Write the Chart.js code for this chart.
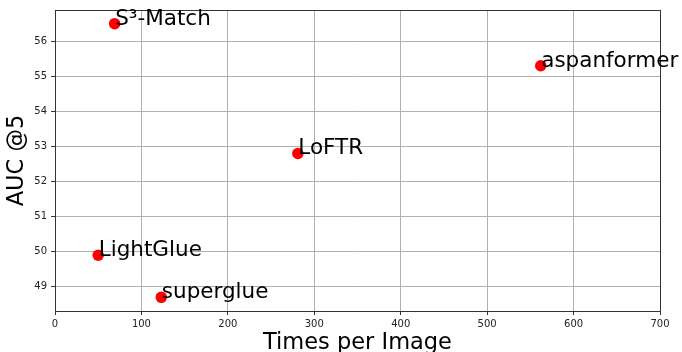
<!DOCTYPE html>
<html>
<head>
<meta charset="utf-8">
<script src="https://cdn.jsdelivr.net/npm/chart.js@4"></script>
<style>
    body { margin: 0; background: #fff; }
    #auc-chart { display: block; }
</style>
</head>
<body>
<canvas id="auc-chart" width="682" height="352"></canvas>
<script>
"use strict";

// values
var methods = ["S³-Match", "LightGlue", "superglue", "LoFTR", "aspanformer"];
var timesPerImage = [69, 50, 123, 281, 562];
var auc5 = [56.5, 49.9, 48.7, 52.8, 55.3];
var xTicks = [0, 100, 200, 300, 400, 500, 600, 700];
var yTicks = [49, 50, 51, 52, 53, 54, 55, 56];

var FONT = "'DejaVu Sans', sans-serif";

// matplotlib style 5% margin on y
var yLo = Math.min.apply(null, auc5), yHi = Math.max.apply(null, auc5);
var yPad = (yHi - yLo) * 0.05;

var points = [];
for (var i = 0; i < methods.length; i++) {
    points.push({ x: timesPerImage[i], y: auc5[i], label: methods[i] });
}

function setTicks(list) {
    return function(scale) {
        scale.ticks = list.map(function(v) { return { value: v }; });
    };
}

// frame + point labels, drawn after the dataset
var frameAndLabels = {
    id: "frameAndLabels",
    afterDatasetsDraw: function(chart) {
        var ctx = chart.ctx, a = chart.chartArea;
        var xs = chart.scales.x, ys = chart.scales.y;
        ctx.save();
        ctx.strokeStyle = "#333";
        ctx.lineWidth = 1;
        ctx.strokeRect(Math.round(a.left) + 0.5, Math.round(a.top) + 0.5,
            Math.round(a.right - a.left), Math.round(a.bottom - a.top));
        ctx.fillStyle = "#000";
        ctx.font = "21.5px " + FONT;
        ctx.textAlign = "left";
        ctx.textBaseline = "alphabetic";
        points.forEach(function(p) {
            ctx.fillText(p.label, xs.getPixelForValue(p.x) + 0.5, ys.getPixelForValue(p.y) + 1);
        });
        ctx.restore();
    }
};

var chart = new Chart(document.getElementById("auc-chart").getContext("2d"), {
    type: "scatter",
    data: {
        datasets: [{
            label: "AUC@5",
            data: points,
            backgroundColor: "#ff0000",
            borderColor: "#ff0000",
            borderWidth: 0,
            pointRadius: 5.75,
            pointHoverRadius: 5.75
        }]
    },
    options: {
        responsive: false,
        animation: false,
        layout: { padding: { top: 10, right: 22, left: 0, bottom: 0 } },
        plugins: {
            legend: { display: false },
            tooltip: { enabled: false }
        },
        scales: {
            x: {
                type: "linear",
                min: 0,
                max: 700,
                afterBuildTicks: setTicks(xTicks),
                afterFit: function(scale) { scale.height = 41; },
                grid: { color: "#b0b0b0", lineWidth: 1, tickColor: "#333", tickLength: 4 },
                border: { display: false },
                ticks: { color: "#222", padding: 3, maxRotation: 0, font: { family: FONT, size: 10 } },
                title: {
                    display: true,
                    text: "Times per Image",
                    color: "#000",
                    padding: 0,
                    font: { family: FONT, size: 22.5, lineHeight: 0.8 }
                }
            },
            y: {
                type: "linear",
                min: yLo - yPad,
                max: yHi + yPad,
                afterBuildTicks: setTicks(yTicks),
                afterFit: function(scale) { scale.width = 55; },
                grid: { color: "#b0b0b0", lineWidth: 1, tickColor: "#333", tickLength: 4 },
                border: { display: false },
                ticks: { color: "#222", padding: 4, font: { family: FONT, size: 10 } },
                title: {
                    display: true,
                    text: "AUC @5",
                    color: "#000",
                    padding: { top: 4, bottom: 0 },
                    font: { family: FONT, size: 22.5, lineHeight: 1.2 }
                }
            }
        }
    },
    plugins: [frameAndLabels]
});
</script>
</body>
</html>
